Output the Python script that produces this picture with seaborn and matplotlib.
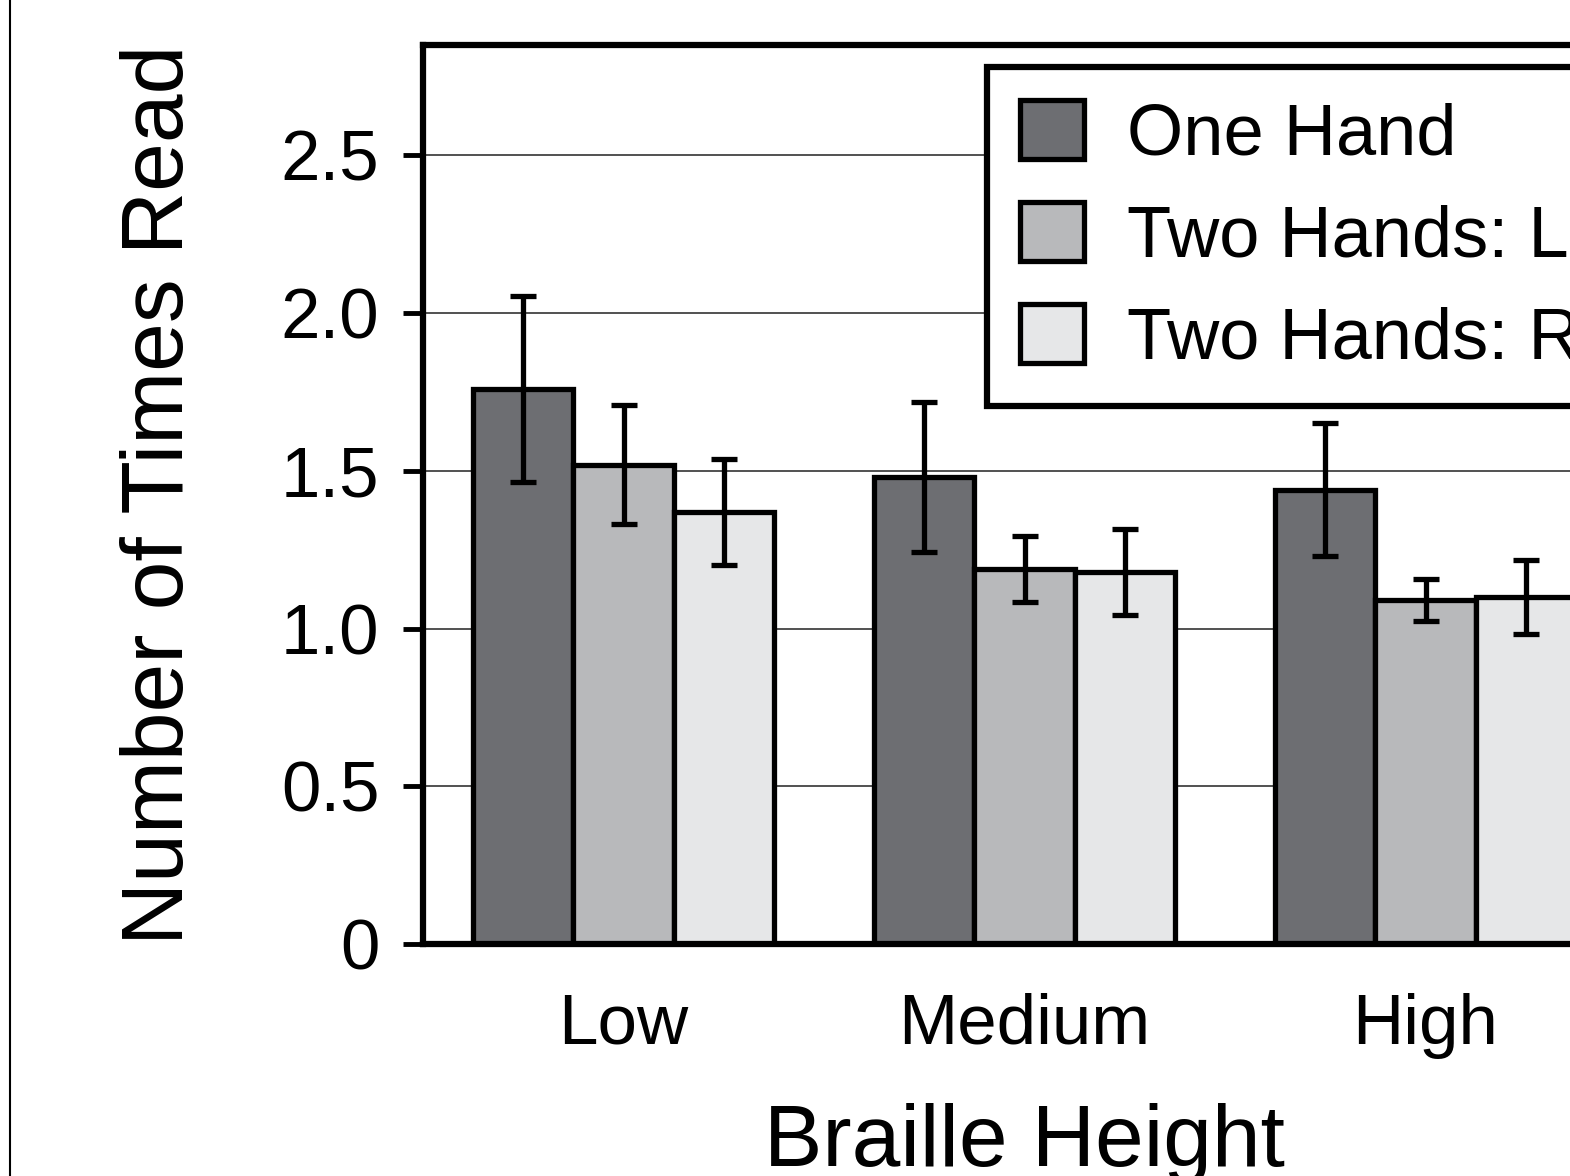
import seaborn as sns
import matplotlib.pyplot as plt
import pandas as pd
from matplotlib.lines import Line2D

# Style
sns.set_style("white")
plt.rcParams['font.family'] = ['Liberation Sans', 'DejaVu Sans']
plt.rcParams['text.color'] = 'black'
plt.rcParams['axes.labelcolor'] = 'black'
plt.rcParams['xtick.color'] = 'black'
plt.rcParams['ytick.color'] = 'black'

# Data
heights = ['Low', 'Medium', 'High']
conditions = ['One Hand', 'Two Hands: Left', 'Two Hands: Right']
one_hand = [1.76, 1.48, 1.44]
two_left = [1.52, 1.19, 1.09]
two_right = [1.37, 1.18, 1.10]
one_hand_err = [0.295, 0.237, 0.211]
two_left_err = [0.19, 0.105, 0.067]
two_right_err = [0.167, 0.137, 0.116]
colors = ['#6d6e72', '#b8b9bb', '#e6e7e8']
ytick_vals = [0, 0.5, 1.0, 1.5, 2.0, 2.5]
ytick_labels = ['0', '0.5', '1.0', '1.5', '2.0', '2.5']

df = pd.DataFrame({
    'Braille Height': heights * 3,
    'Condition': [c for c in conditions for _ in heights],
    'Times Read': one_hand + two_left + two_right,
    'Err': one_hand_err + two_left_err + two_right_err,
})

fig = plt.figure(figsize=(15.70, 11.76), dpi=100)
# axes run past the right edge, as in the cropped original
ax = fig.add_axes([423 / 1570, 1 - 944 / 1176, 1203 / 1570, 899 / 1176])

sns.barplot(data=df, x='Braille Height', y='Times Read', hue='Condition',
            order=heights, hue_order=conditions, palette=colors,
            width=0.75, errorbar=None, edgecolor='black', linewidth=3.8,
            saturation=1, ax=ax, zorder=2)

# error bars at the centre of each bar
for cont, cond in zip(ax.containers, conditions):
    sub = df[df['Condition'] == cond].set_index('Braille Height').loc[heights]
    xs = [p.get_x() + p.get_width() / 2 for p in cont.patches]
    ax.errorbar(xs, sub['Times Read'], yerr=sub['Err'], fmt='none',
                ecolor='black', elinewidth=3.8, capsize=9.5, capthick=3.8, zorder=3)

ax.set_xlim(-0.5, 2.5)
ax.set_ylim(0, 2.85)
ax.set_yticks(ytick_vals)
ax.set_yticklabels(ytick_labels)
ax.yaxis.grid(True, color='#222222', linewidth=1.1)
ax.set_axisbelow(True)

for s in ax.spines.values():
    s.set_color('black')
    s.set_linewidth(4.5)

ax.tick_params(axis='y', direction='out', length=14.5, width=3.5,
               labelsize=51, pad=17, left=True, color='black')
ax.tick_params(axis='x', length=0, labelsize=51, pad=35)

ax.set_xlabel('Braille Height', fontsize=63, labelpad=32)
ax.set_ylabel('Number of Times Read', fontsize=63, labelpad=57)

leg = ax.legend(loc='upper left', bbox_to_anchor=(987 / 1570, 1 - 67 / 1176),
                bbox_transform=fig.transFigure, frameon=True, fancybox=False,
                framealpha=1, fontsize=52, handlelength=0.89, handleheight=0.89,
                handletextpad=0.6, labelspacing=0.45, borderpad=0.45,
                borderaxespad=0, title=None)
leg.get_frame().set_edgecolor('black')
leg.get_frame().set_linewidth(4.5)
for h in leg.legend_handles:
    h.set_edgecolor('black')
    h.set_linewidth(3.8)

# thin frame line at the left edge of the original figure
fig.add_artist(Line2D([10 / 1570, 10 / 1570], [0, 1], transform=fig.transFigure,
                      color='black', linewidth=1.5))

plt.savefig('out.png', dpi=100)
